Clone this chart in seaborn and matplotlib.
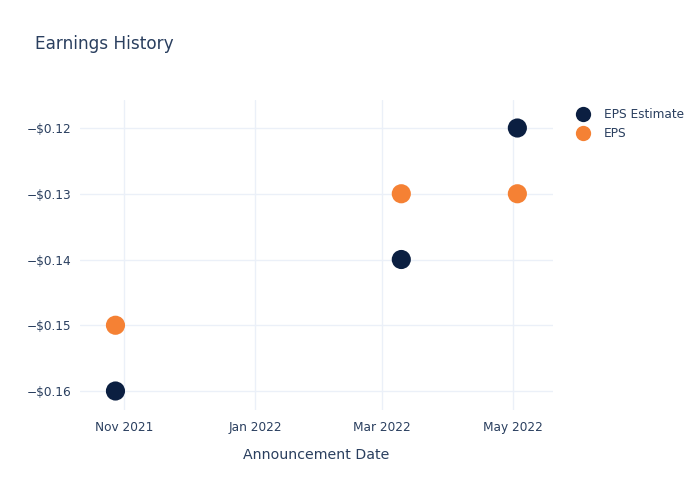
import matplotlib
matplotlib.use("Agg")
import matplotlib.pyplot as plt
import matplotlib.dates as mdates
from matplotlib.ticker import FuncFormatter, FixedLocator
import seaborn as sns
import pandas as pd

dates = ["2021-10-28", "2022-03-10", "2022-05-03"]
eps_estimate = [-0.16, -0.14, -0.12]
eps_actual = [-0.15, -0.13, -0.13]
y_ticks = [-0.16, -0.15, -0.14, -0.13, -0.12]
x_ticks = ["2021-11-01", "2022-01-01", "2022-03-01", "2022-05-01"]

df = pd.DataFrame({
    "date": pd.to_datetime(dates * 2),
    "value": eps_estimate + eps_actual,
    "series": ["EPS Estimate"] * 3 + ["EPS"] * 3,
})

sns.set_style("white")
plt.rcParams['font.family'] = ['DejaVu Sans']
txt = "#2a3f5f"

fig = plt.figure(figsize=(7, 5), dpi=100)
ax = fig.add_axes([80/700, 1-410/500, (553-80)/700, (410-100)/500])

sns.scatterplot(data=df, x="date", y="value", hue="series",
                palette={"EPS Estimate": "#0b1f41", "EPS": "#f58134"},
                s=190, edgecolor="none", ax=ax, zorder=3)

ax.set_xlim(pd.Timestamp("2021-10-11 12:00"), pd.Timestamp("2022-05-19 14:00"))
ax.set_ylim(-0.16289, -0.11574)
ax.xaxis.set_major_locator(FixedLocator([mdates.date2num(pd.Timestamp(d)) for d in x_ticks]))
ax.xaxis.set_major_formatter(mdates.DateFormatter("%b %Y"))
ax.yaxis.set_major_locator(FixedLocator(y_ticks))
ax.yaxis.set_major_formatter(FuncFormatter(lambda v, p: "\u2212$%.2f" % abs(v)))

ax.grid(True, color="#ebf0f8", linewidth=1, zorder=0)
ax.set_axisbelow(True)
for s in ax.spines.values():
    s.set_visible(False)
ax.tick_params(axis="both", length=0, labelsize=8.7, colors=txt, pad=8)
ax.tick_params(axis="y", pad=6)

ax.set_xlabel("Announcement Date", fontsize=10.2, color=txt, labelpad=10)
ax.set_ylabel("")
fig.text(35/700, 1-44/500, "Earnings History", fontsize=12.2, color=txt, va="center", ha="left")

leg = ax.legend(loc="upper left", bbox_to_anchor=(566/700, 1-103/500),
                bbox_transform=fig.transFigure, frameon=False, fontsize=8.7,
                labelcolor=txt, handletextpad=0.75, borderaxespad=0, labelspacing=0.55)
for h in leg.legend_handles:
    if hasattr(h, "set_markersize"):
        h.set_markersize(11)

fig.savefig("out.png", dpi=100)
